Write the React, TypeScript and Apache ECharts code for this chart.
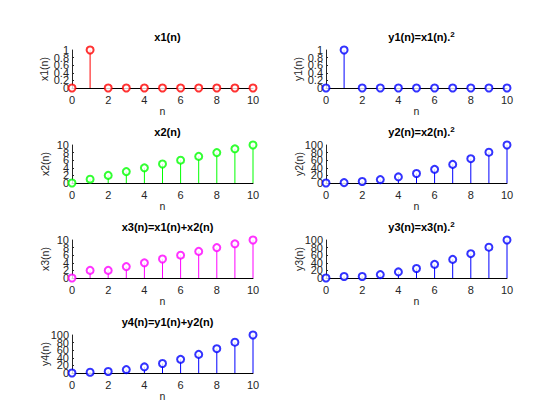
import React, { useEffect, useRef } from "react";
import * as echarts from "echarts";

const nValues = [0, 1, 2, 3, 4, 5, 6, 7, 8, 9, 10];
const x1 = [0, 1, 0, 0, 0, 0, 0, 0, 0, 0, 0];
const y1 = [0, 1, 0, 0, 0, 0, 0, 0, 0, 0, 0];
const x2 = [0, 1, 2, 3, 4, 5, 6, 7, 8, 9, 10];
const y2 = [0, 1, 4, 9, 16, 25, 36, 49, 64, 81, 100];
const x3 = [0, 2, 2, 3, 4, 5, 6, 7, 8, 9, 10];
const y3 = [0, 4, 4, 9, 16, 25, 36, 49, 64, 81, 100];
const y4 = [0, 2, 4, 9, 16, 25, 36, 49, 64, 81, 100];

const titles = [
  "x1(n)",
  "y1(n)=x1(n).{sup|2}",
  "x2(n)",
  "y2(n)=x2(n).{sup|2}",
  "x3(n)=x1(n)+x2(n)",
  "y3(n)=x3(n).{sup|2}",
  "y4(n)=y1(n)+y2(n)",
];
const yNames = ["x1(n)", "y1(n)", "x2(n)", "y2(n)", "x3(n)", "y3(n)", "y4(n)"];
const xName = "n";
const seriesData = [x1, y1, x2, y2, x3, y3, y4];
const yMax = [1, 1, 10, 100, 10, 100, 100];
const yInterval = [0.2, 0.2, 2, 20, 2, 20, 20];
const xTickStep = 2;

// styles / layout
const colors = ["#ff0000", "#0000ff", "#00ff00", "#0000ff", "#ff00ff", "#0000ff", "#0000ff"];
const colLeft = [72, 326];
const rowTop = [50, 145, 240, 335];
const plotW = 181;
const plotH = 38;
const FONT = "Liberation Sans, Arial, Helvetica, sans-serif";
const AXC = "#262626";

export default function App() {
  const ref = useRef<HTMLDivElement>(null);
  useEffect(() => {
    if (!ref.current) return;
    const chart = echarts.init(ref.current, undefined, { renderer: "svg" });
    const grids: any[] = [];
    const xAxes: any[] = [];
    const yAxes: any[] = [];
    const series: any[] = [];
    const title: any[] = [];
    const labelStyle = { fontFamily: FONT, fontSize: 11, color: AXC };
    const nameStyle = { fontFamily: FONT, fontSize: 10.5, color: AXC };
    seriesData.forEach((d, i) => {
      const col = i % 2;
      const row = Math.floor(i / 2);
      grids.push({ left: colLeft[col], top: rowTop[row], width: plotW, height: plotH, containLabel: false });
      xAxes.push({
        type: "value",
        gridIndex: i,
        min: 0,
        max: 10,
        interval: xTickStep,
        name: xName,
        nameLocation: "middle",
        nameGap: 17,
        nameTextStyle: { ...nameStyle },
        axisLine: { show: true, onZero: false, lineStyle: { color: "#000", width: 1 } },
        axisTick: { show: false },
        axisLabel: { ...labelStyle, margin: 6, showMinLabel: true, showMaxLabel: true, hideOverlap: false },
        splitLine: { show: false },
      });
      // main y axis: line, ticks, name, inner labels
      yAxes.push({
        type: "value",
        gridIndex: i,
        position: "left",
        min: 0,
        max: yMax[i],
        interval: yInterval[i],
        name: yNames[i],
        nameLocation: "middle",
        nameGap: 22,
        nameTextStyle: { ...nameStyle },
        axisLine: { show: true, onZero: false, lineStyle: { color: AXC, width: 1 } },
        axisTick: { show: true, inside: true, length: 2, lineStyle: { color: AXC } },
        axisLabel: { ...labelStyle, margin: 3, showMinLabel: false, showMaxLabel: false, hideOverlap: false },
        splitLine: { show: false },
      });
      // companion y axis (same scale) carrying only the min and max labels
      const maxV = yMax[i];
      yAxes.push({
        type: "value",
        gridIndex: i,
        position: "left",
        offset: 0,
        min: 0,
        max: maxV,
        interval: yInterval[i],
        axisLine: { show: false, onZero: false },
        axisTick: { show: false },
        axisLabel: {
          ...labelStyle,
          margin: 3,
          showMinLabel: true,
          showMaxLabel: true,
          hideOverlap: false,
          formatter: (v: number) => (v === 0 || Math.abs(v - maxV) < 1e-9 ? String(v) : ""),
        },
        splitLine: { show: false },
      });
      title.push({
        text: titles[i],
        left: colLeft[col] + plotW / 2,
        top: rowTop[row] - 25,
        textAlign: "center",
        textStyle: {
          fontFamily: FONT,
          fontSize: 11,
          fontWeight: "bold",
          color: "#000",
          lineHeight: 13,
          rich: {
            sup: { fontFamily: FONT, fontSize: 8, fontWeight: "bold", color: "#000", verticalAlign: "top", lineHeight: 10 },
          },
        },
      });
      const pts = nValues.map((nv, k) => [nv, d[k]]);
      series.push({
        type: "custom",
        xAxisIndex: i,
        yAxisIndex: 2 * i,
        data: pts,
        z: 2,
        renderItem: (params: any, api: any) => {
          const p0 = api.coord([api.value(0), 0]);
          const p1 = api.coord([api.value(0), api.value(1)]);
          return {
            type: "line",
            shape: { x1: p0[0], y1: p0[1], x2: p1[0], y2: p1[1] },
            style: { stroke: colors[i], lineWidth: 1 },
          };
        },
      });
      series.push({
        type: "scatter",
        xAxisIndex: i,
        yAxisIndex: 2 * i,
        data: pts,
        symbol: "emptyCircle",
        symbolSize: 7,
        z: 3,
        itemStyle: { color: colors[i], borderColor: colors[i], borderWidth: 1 },
      });
    });
    chart.setOption({
      animation: false,
      backgroundColor: "#fff",
      title,
      grid: grids,
      xAxis: xAxes,
      yAxis: yAxes,
      series,
    });
    return () => chart.dispose();
  }, []);
  return <div ref={ref} style={{ position: "fixed", left: 0, top: 0, width: 560, height: 420 }} />;
}
